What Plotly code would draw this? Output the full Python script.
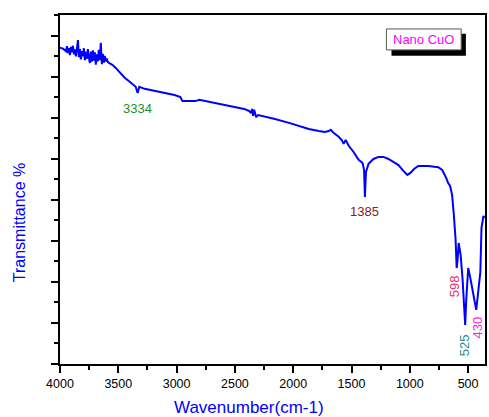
import plotly.graph_objects as go

# FTIR spectrum of nano CuO (wavenumber in cm-1, transmittance in arbitrary units)
wavenumber = [
    4000, 3974, 3949, 3940, 3932, 3923, 3915, 3906, 3898, 3889, 3880, 3872,
    3863, 3855, 3846, 3838, 3829, 3821, 3812, 3804, 3795, 3787, 3778, 3770,
    3761, 3752, 3744, 3735, 3727, 3718, 3710, 3701, 3693, 3684, 3676, 3667,
    3659, 3650, 3641, 3633, 3624, 3616, 3607, 3599, 3590,
    3573, 3548, 3522, 3488, 3445, 3402, 3368, 3351, 3334, 3320, 3274, 3189,
    3104, 3018, 2967, 2950, 2890, 2839, 2805, 2677, 2549, 2421, 2378, 2361,
    2352, 2344, 2335, 2318, 2301, 2276, 2165, 2036, 1951, 1866, 1780, 1729,
    1695, 1678, 1652, 1610, 1584, 1567, 1550, 1524, 1482, 1439, 1405, 1392,
    1385, 1376, 1354, 1311, 1268, 1226, 1183, 1140, 1097, 1055, 1021, 995,
    961, 927, 841, 756, 722, 688, 671, 654, 637, 622, 607, 598, 590, 581,
    564, 547, 533, 525, 516, 499, 481, 463, 446, 430, 412, 395, 385, 368, 360,
]
transmittance = [
    77.1, 76.9, 76.3, 77.5, 75.8, 77.0, 75.3, 77.3, 76.0, 77.6, 75.5, 76.7,
    75.0, 77.8, 79.0, 74.8, 76.8, 74.3, 76.3, 75.0, 77.0, 74.1, 76.1, 74.4,
    76.8, 74.7, 73.4, 76.2, 73.7, 76.5, 74.0, 76.0, 73.0, 75.5, 73.8, 76.6,
    74.1, 78.3, 73.1, 75.6, 73.5, 75.1, 73.8, 74.5, 73.6,
    73.3, 72.9, 72.2, 71.2, 69.8, 68.8, 68.0, 67.6, 66.1, 67.6, 67.1, 66.6,
    66.1, 65.6, 65.1, 64.1, 64.1, 64.1, 64.4, 63.7, 62.9, 62.2, 61.7, 61.2,
    62.2, 60.5, 62.0, 60.2, 60.7, 60.5, 59.8, 58.8, 58.0, 57.3, 56.8, 56.6,
    56.8, 57.1, 56.3, 55.4, 54.6, 53.7, 54.6, 53.2, 51.7, 49.8, 49.0, 47.3,
    40.7, 46.8, 48.8, 50.0, 50.5, 50.5, 50.0, 49.3, 48.5, 47.1, 46.1, 46.6,
    47.6, 48.3, 48.3, 48.0, 47.3, 45.4, 44.1, 43.4, 41.2, 36.3, 30.2, 23.4,
    25.4, 29.5, 26.6, 20.5, 13.2, 9.5, 15.6, 23.4, 21.0, 17.6, 15.6, 13.2,
    18.0, 22.4, 33.2, 36.1, 35.6,
]

sample_name = "Nano CuO"
x_ticks = [4000, 3500, 3000, 2500, 2000, 1500, 1000, 500]

# Band labels: (text, x, y, colour, angle)
band_labels = [
    ("3334", 3334, 62.3, "#1f8f1f", 0),
    ("1385", 1385, 37.2, "#8b1a1a", 0),
    ("598", 620, 19.0, "#e8306e", -90),
    ("525", 535, 4.6, "#2a8c8c", -90),
    ("430", 420, 9.0, "#ff22dd", -90),
]

FONT = "Liberation Sans, Arial, sans-serif"

fig = go.Figure()
fig.add_trace(go.Scatter(
    x=wavenumber, y=transmittance, mode="lines",
    line=dict(color="#0000ff", width=2), showlegend=False,
))

for text, x, y, color, angle in band_labels:
    fig.add_annotation(x=x, y=y, text=text, showarrow=False, textangle=angle,
                       xanchor="center", yanchor="middle",
                       font=dict(family=FONT, size=13, color=color))

# sample label box with drop shadow
fig.add_shape(type="rect", xref="paper", yref="paper",
              x0=0.780, x1=0.955, y0=0.883, y1=0.946,
              fillcolor="black", line=dict(width=0))
fig.add_shape(type="rect", xref="paper", yref="paper",
              x0=0.768, x1=0.944, y0=0.900, y1=0.960,
              fillcolor="white", line=dict(color="#555555", width=1))
fig.add_annotation(xref="paper", yref="paper", x=0.856, y=0.930,
                   xanchor="center", yanchor="middle",
                   text=sample_name, showarrow=False,
                   font=dict(family=FONT, size=13, color="#ff00ff"))

# axis titles
fig.add_annotation(xref="paper", yref="paper", x=0.445, y=-0.126,
                   xanchor="center", yanchor="middle",
                   text="Wavenumber(cm-1)", showarrow=False,
                   font=dict(family=FONT, size=17, color="#0000ff"))
fig.add_annotation(xref="paper", yref="paper", x=-0.096, y=0.404,
                   xanchor="center", yanchor="middle",
                   text="Transmittance %", showarrow=False, textangle=-90,
                   font=dict(family=FONT, size=16, color="#0000ff"))

fig.update_xaxes(
    range=[4000, 355], tickmode="array", tickvals=x_ticks,
    ticks="outside", ticklen=7, tickwidth=2, tickcolor="black",
    minor=dict(dtick=250, ticks="outside", ticklen=4, tickwidth=2, tickcolor="black", showgrid=False),
    showline=True, linecolor="black", linewidth=2, mirror=True,
    showgrid=False, zeroline=False,
    tickfont=dict(family=FONT, size=12.5, color="black"),
)
fig.update_yaxes(
    range=[0, 85.1], tick0=0, dtick=10, showticklabels=False,
    ticks="outside", ticklen=7, tickwidth=2, tickcolor="black",
    minor=dict(dtick=5, ticks="outside", ticklen=4, tickwidth=2, tickcolor="black", showgrid=False),
    showline=True, linecolor="black", linewidth=2, mirror=True,
    showgrid=False, zeroline=False,
)

fig.update_layout(
    width=489, height=417,
    margin=dict(l=60, r=2, t=15, b=53),
    paper_bgcolor="white", plot_bgcolor="white",
    font=dict(family=FONT),
)

fig.write_html("out.html")
